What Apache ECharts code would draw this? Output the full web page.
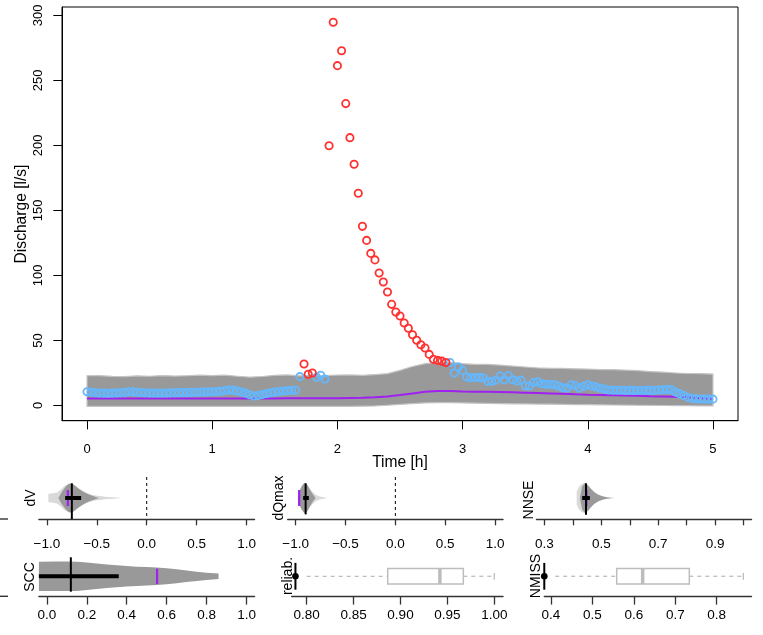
<!DOCTYPE html>
<html><head><meta charset="utf-8">
<script src="https://cdn.jsdelivr.net/npm/echarts@6/dist/echarts.min.js"></script>
<style>html,body{margin:0;padding:0;background:#fff}#c{width:763px;height:635px}</style>
</head><body><div id="c"></div><script>
const FONT = '"Liberation Sans", Arial, Helvetica, sans-serif';

// ---------- main hydrograph data ----------
const obsStepHours = 2 / 60; // observations every 2 minutes
const obsQ = [
10.6,10.2,9.8,9.6,9.5,9.4,9.5,9.6,9.8,10.0,
10.6,10.5,10.2,10.0,9.8,9.6,9.6,9.5,9.6,9.6,
9.7,9.8,9.9,10.0,10.0,10.1,10.2,10.3,10.4,10.5,
10.6,10.8,11.0,11.4,11.9,11.8,11.2,10.4,9.5,8.3,
7.3,7.6,8.5,9.2,9.8,10.3,10.8,11.1,11.3,11.5,
11.7,22.2,31.9,24.0,25.0,21.7,23.2,20.4,199.8,294.8,
261.4,272.9,232.2,206.0,185.5,163.2,137.8,127.0,117.0,112.0,
101.9,95.0,87.3,77.8,71.9,68.8,63.5,59.4,54.4,50.2,
46.7,44.2,39.3,35.5,34.7,34.1,33.1,33.0,25.0,29.6,
27.0,21.9,21.4,21.5,21.5,21.4,18.7,18.7,19.5,22.6,
19.8,23.0,19.8,18.8,19.5,15.1,15.0,17.6,18.2,16.7,
16.3,16.2,16.2,15.0,13.6,13.4,15.9,15.3,13.4,14.9,
15.9,14.9,14.3,13.3,12.6,11.9,11.8,11.7,11.7,11.6,
11.6,11.6,11.5,11.5,11.6,11.6,11.7,11.9,12.1,12.3,
12.2,10.3,9.1,7.7,6.4,5.4,5.1,5.0,4.9,4.9,
4.9];
// indices of observations lying outside the prediction band (drawn red)
const outsideIdx = [52,53,54,58,59,60,61,62,63,64,65,66,67,68,69,70,71,72,73,74,75,76,77,78,79,80,81,82,83,84,85,86];

const bandTime = [0,0.1,0.2,0.3,0.4,0.5,0.6,0.7,0.8,0.9,1,1.1,1.2,1.3,1.4,1.5,1.6,1.7,1.8,1.9,2,2.1,2.2,2.3,2.4,2.5,2.6,2.7,2.8,2.9,3,3.1,3.2,3.3,3.4,3.5,3.6,3.7,3.8,3.9,4,4.1,4.2,4.3,4.4,4.5,4.6,4.7,4.8,4.9,5];
const bandUpper = [22.9,23.0,22.4,22.2,22.8,22.5,23.0,22.6,22.9,23.3,
23.0,23.4,22.5,21.8,22.3,23.2,23.5,22.8,23.2,23.0,
23.4,23.5,23.2,23.8,24.5,27.0,30.0,32.2,33.0,33.2,
32.2,31.6,31.6,31.0,30.3,29.6,28.9,28.6,28.5,28.2,
28.0,27.6,27.6,27.2,26.8,26.1,25.6,25.0,24.6,24.5,
24.2];
const bandLower = [-0.6,-0.6,-0.6,-0.6,-0.6,-0.6,-0.6,-0.6,-0.6,-0.6,
-0.6,-0.6,-0.6,-0.6,-0.6,-0.6,-0.6,-0.6,-0.6,-0.6,
-0.6,-0.6,-0.5,-0.3,0.2,0.8,1.5,2.0,2.2,2.2,
2.0,1.8,1.6,1.5,1.3,1.2,1.1,1.0,0.9,0.7,
0.6,0.5,0.4,0.3,0.2,0.1,0.0,-0.1,-0.2,-0.3,
-0.3];
const bandMedian = [5.4,5.4,5.4,5.4,5.4,5.4,5.4,5.4,5.4,5.4,
5.4,5.4,5.4,5.4,5.4,5.4,5.6,5.6,5.6,5.6,
5.6,5.8,6.0,6.4,7.0,8.0,9.3,10.5,11.2,11.1,
10.8,10.6,10.5,10.3,10.1,9.9,9.6,9.3,9.0,8.6,
8.3,8.1,7.9,7.7,7.5,7.2,7.0,6.8,6.4,5.8,
5.0];

const mainXTicks = [0,1,2,3,4,5];
const mainYTicks = [0,50,100,150,200,250,300];

// ---------- performance panels ----------
// dV
const dvLightX = [-0.985,-0.95,-0.9,-0.86,-0.82,-0.78,-0.74,-0.7,-0.65,-0.6,-0.55,-0.5,-0.45,-0.4,-0.34,-0.27];
const dvLightD = [0.2,0.21,0.26,0.4,0.58,0.68,0.66,0.52,0.36,0.24,0.16,0.11,0.08,0.05,0.03,0.01];
const dvDarkX = [-0.885,-0.85,-0.81,-0.78,-0.75,-0.72,-0.68,-0.63,-0.58,-0.53,-0.48];
const dvDarkD = [0.0,0.3,0.55,0.68,0.69,0.6,0.44,0.29,0.17,0.08,0.0];
const dvMedian = -0.75, dvQuart = [-0.817,-0.657], dvObs = -0.79, dvRef = 0;
// dQmax
const dqLightX = [-0.98,-0.96,-0.94,-0.92,-0.9,-0.88,-0.86,-0.83,-0.8,-0.76,-0.72,-0.68];
const dqLightD = [0.12,0.36,0.56,0.68,0.71,0.62,0.46,0.28,0.15,0.07,0.03,0.0];
const dqDarkX = [-0.975,-0.96,-0.94,-0.92,-0.9,-0.88,-0.86,-0.84,-0.82,-0.8];
const dqDarkD = [0.1,0.35,0.55,0.68,0.71,0.6,0.42,0.26,0.12,0.0];
const dqMedian = -0.9, dqQuart = [-0.925,-0.868], dqObs = -0.965, dqRef = 0;
// NNSE
const nnseLightX = [0.4137,0.42,0.43,0.44,0.45,0.46];
const nnseLightD = [0.3,0.5,0.66,0.71,0.6,0.3];
const nnseDarkX = [0.425,0.433,0.443,0.453,0.463,0.475,0.49,0.505,0.52,0.535,0.548];
const nnseDarkD = [0.0,0.55,0.71,0.62,0.45,0.28,0.15,0.08,0.04,0.015,0.0];
const nnseMedian = 0.4463, nnseQuart = [0.433,0.46], nnseObs = 0.448;
// SCC
const sccX = [-0.04,0.05,0.1,0.15,0.2,0.25,0.3,0.35,0.4,0.45,0.5,0.55,0.6,0.65,0.7,0.75,0.8,0.86];
const sccD = [0.73,0.74,0.74,0.73,0.69,0.64,0.59,0.55,0.51,0.48,0.46,0.44,0.4,0.35,0.29,0.23,0.18,0.14];
const sccMedian = 0.12, sccQuart = [-0.04,0.36], sccObs = 0.552;
// reliability
const relBox = [0.8864,0.942,0.967], relWhisk = [0.80,1.0], relObs = 0.788;
// NMISS
const nmBox = [0.5586,0.6213,0.7339], nmWhisk = [0.41,0.8643], nmObs = 0.3838;

const ticksPM1 = [-1,-0.5,0,0.5,1];
const ticks01 = [0,0.2,0.4,0.6,0.8,1];
const ticksRel = [0.8,0.85,0.9,0.95,1.0];
const ticksNNSE = [0.3,0.4,0.5,0.6,0.7,0.8,0.9,1.0];
const labelsNNSE = [0.3,0.5,0.7,0.9];
const ticksNM = [0.4,0.5,0.6,0.7,0.8];

// ---------- helpers ----------
const fmt = d => v => (v < 0 ? '\u2212' : '') + Math.abs(v).toFixed(d);
const GREY = '#999999', LIGHT = '#d9d9d9', PURPLE = '#a020f0';

function violinPoly(api, xs, ds, color) {
  const top = xs.map((x, k) => api.coord([x, ds[k]]));
  const bot = xs.map((x, k) => api.coord([x, -ds[k]])).reverse();
  return { type: 'polygon', shape: { points: top.concat(bot) }, style: { fill: color } };
}
function vseg(api, x, yTop, yBot, color, w) {
  const a = api.coord([x, yTop]), b = api.coord([x, yBot]);
  return { type: 'line', shape: { x1: a[0], y1: a[1], x2: b[0], y2: b[1] }, style: { stroke: color, lineWidth: w } };
}
function vline(api, x, h, color, w) { return vseg(api, x, h, -h, color, w); }
function hline(api, x1, x2, color, w, dash) {
  const a = api.coord([x1, 0]), b = api.coord([x2, 0]);
  return { type: 'line', shape: { x1: a[0], y1: a[1], x2: b[0], y2: b[1] }, style: { stroke: color, lineWidth: w, lineDash: dash || null } };
}
function refLine(api, x) {
  const a = api.coord([x, 1]), b = api.coord([x, -1]);
  return { type: 'line', shape: { x1: a[0], y1: a[1], x2: b[0], y2: b[1] }, style: { stroke: '#000', lineWidth: 1, lineDash: [3, 3] } };
}
function violinPanel(idx, spec) {
  return {
    type: 'custom', xAxisIndex: idx, yAxisIndex: idx, data: [[0, 0]], clip: false, silent: true, z: 5,
    renderItem: (params, api) => {
      const ch = [];
      if (spec.ref !== undefined) ch.push(refLine(api, spec.ref));
      if (spec.lightX) ch.push(violinPoly(api, spec.lightX, spec.lightD, LIGHT));
      ch.push(violinPoly(api, spec.darkX, spec.darkD, GREY));
      ch.push(vline(api, spec.obs, 0.38, PURPLE, 2.2));
      ch.push(vseg(api, spec.median, spec.medTop, spec.medBot, '#000', 2));
      ch.push(hline(api, spec.quart[0], spec.quart[1], '#000', 4));
      return { type: 'group', children: ch };
    }
  };
}
function boxPanel(idx, box, whisk, obs) {
  return {
    type: 'custom', xAxisIndex: idx, yAxisIndex: idx, data: [[0, 0]], clip: false, silent: true, z: 5,
    renderItem: (params, api) => {
      const c = '#bdbdbd';
      const p1 = api.coord([box[0], 0.385]), p3 = api.coord([box[2], -0.385]);
      const ch = [
        hline(api, whisk[0], box[0], c, 1.3, [4, 4]),
        hline(api, box[2], whisk[1], c, 1.3, [4, 4]),
        vline(api, whisk[1], 0.17, c, 1.3),
        { type: 'rect', shape: { x: p1[0], y: p1[1], width: p3[0] - p1[0], height: p3[1] - p1[1] }, style: { fill: '#fff', stroke: c, lineWidth: 1.5 } },
        vline(api, box[1], 0.385, c, 3.5),
        vline(api, obs, 0.67, '#000', 2)
      ];
      const o = api.coord([obs, 0]);
      ch.push({ type: 'circle', shape: { cx: o[0], cy: o[1], r: 3.3 }, style: { fill: '#000' } });
      return { type: 'group', children: ch };
    }
  };
}

// ---------- layout ----------
const grids = [
  { left: 62, top: 7, width: 676, height: 413.7 },
  { left: 38.9, top: 477, width: 215.6, height: 42 },
  { left: 38.9, top: 556.3, width: 215.6, height: 40 },
  { left: 287.7, top: 477, width: 215.3, height: 42 },
  { left: 291.7, top: 556.3, width: 211.3, height: 40 },
  { left: 536.5, top: 477, width: 215, height: 42 },
  { left: 544.3, top: 556.3, width: 207.2, height: 40 }
];
grids[0].show = true; grids[0].borderColor = '#000'; grids[0].borderWidth = 1;

function smallX(idx, min, max, ticks, labels, dec, margin, tickLen) {
  return {
    gridIndex: idx, type: 'value', min: min, max: max,
    axisLine: { show: true, onZero: false, lineStyle: { color: '#333', width: 1.4 } },
    axisTick: { show: true, customValues: ticks, length: tickLen, lineStyle: { color: '#333', width: 1.3 } },
    axisLabel: { customValues: labels, formatter: fmt(dec), margin: margin, fontSize: 13.5, color: '#000', fontFamily: FONT },
    splitLine: { show: false }
  };
}
const xAxes = [
  {
    gridIndex: 0, type: 'value', min: -0.2, max: 5.2,
    axisLine: { show: true, onZero: false, lineStyle: { color: '#000', width: 1 } },
    axisTick: { show: true, customValues: mainXTicks, length: 8.7, lineStyle: { color: '#000' } },
    axisLabel: { customValues: mainXTicks, formatter: v => String(v), margin: 22, fontSize: 13, color: '#000', fontFamily: FONT },
    splitLine: { show: false }
  },
  smallX(1, -1.08, 1.08, ticksPM1, ticksPM1, 1, 18, 6.3),
  smallX(2, -0.04, 1.04, ticks01, ticks01, 1, 12, 8.3),
  smallX(3, -1.08, 1.08, ticksPM1, ticksPM1, 1, 18, 6.3),
  smallX(4, 0.78401, 1.00928, ticksRel, ticksRel, 2, 12, 8.3),
  smallX(5, 0.2726, 1.0274, ticksNNSE, labelsNNSE, 1, 18, 6.3),
  smallX(6, 0.38383, 0.884, ticksNM, ticksNM, 1, 12, 8.3)
];
const yAxes = [
  {
    gridIndex: 0, type: 'value', min: -11.69, max: 306.5,
    axisLine: { show: true, onZero: false, lineStyle: { color: '#000', width: 1 } },
    axisTick: { show: true, customValues: mainYTicks, length: 8.7, lineStyle: { color: '#000' } },
    axisLabel: { customValues: mainYTicks, rotate: 90, margin: 17, fontSize: 13, color: '#000', fontFamily: FONT },
    splitLine: { show: false }
  }
];
for (let i = 1; i <= 6; i++) yAxes.push({ gridIndex: i, type: 'value', min: -1, max: 1, show: false });

// ---------- series ----------
const obsAll = obsQ.map((q, i) => [i * obsStepHours, q]);
const outSet = new Set(outsideIdx);
const obsIn = obsAll.filter((p, i) => !outSet.has(i));
const obsOut = obsAll.filter((p, i) => outSet.has(i));

const series = [
  {
    type: 'custom', xAxisIndex: 0, yAxisIndex: 0, data: [[0, 0]], silent: true, z: 1,
    renderItem: (params, api) => {
      const up = bandTime.map((t, k) => api.coord([t, bandUpper[k]]));
      const lo = bandTime.map((t, k) => api.coord([t, bandLower[k]])).reverse();
      return { type: 'polygon', shape: { points: up.concat(lo) }, style: { fill: GREY, stroke: '#c4c4c4', lineWidth: 1.2 } };
    }
  },
  {
    type: 'line', xAxisIndex: 0, yAxisIndex: 0, data: bandTime.map((t, k) => [t, bandMedian[k]]),
    showSymbol: false, symbol: 'none', lineStyle: { color: PURPLE, width: 2 }, z: 2, silent: true
  },
  {
    type: 'scatter', xAxisIndex: 0, yAxisIndex: 0, data: obsIn, symbol: 'circle', symbolSize: 7.3, z: 3, silent: true,
    itemStyle: { color: 'rgba(0,0,0,0)', borderColor: '#63b8ff', borderWidth: 1.8, opacity: 1 }
  },
  {
    type: 'scatter', xAxisIndex: 0, yAxisIndex: 0, data: obsOut, symbol: 'circle', symbolSize: 7.3, z: 4, silent: true,
    itemStyle: { color: 'rgba(0,0,0,0)', borderColor: '#ff3030', borderWidth: 1.8, opacity: 1 }
  },
  violinPanel(1, { lightX: dvLightX, lightD: dvLightD, darkX: dvDarkX, darkD: dvDarkD, median: dvMedian, quart: dvQuart, obs: dvObs, ref: dvRef, medTop: 0.7, medBot: -1.0 }),
  violinPanel(2, { darkX: sccX, darkD: sccD, median: sccMedian, quart: sccQuart, obs: sccObs, medTop: 0.95, medBot: -0.77 }),
  violinPanel(3, { lightX: dqLightX, lightD: dqLightD, darkX: dqDarkX, darkD: dqDarkD, median: dqMedian, quart: dqQuart, obs: dqObs, ref: dqRef, medTop: 0.7, medBot: -0.78 }),
  boxPanel(4, relBox, relWhisk, relObs),
  violinPanel(5, { lightX: nnseLightX, lightD: nnseLightD, darkX: nnseDarkX, darkD: nnseDarkD, median: nnseMedian, quart: nnseQuart, obs: nnseObs, medTop: 0.7, medBot: -0.8 }),
  boxPanel(6, nmBox, nmWhisk, nmObs)
];

// ---------- text ----------
function vtext(x, y, text, size) {
  return { type: 'text', x: x, y: y, rotation: Math.PI / 2, silent: true,
    style: { text: text, font: size + 'px ' + FONT, fill: '#000', align: 'center', verticalAlign: 'middle', textAlign: 'center', textVerticalAlign: 'middle' } };
}
const graphics = [
  { type: 'text', x: 400, y: 463, silent: true, style: { text: 'Time [h]', font: '15.6px ' + FONT, fill: '#000', align: 'center', verticalAlign: 'middle', textAlign: 'center', textVerticalAlign: 'middle' } },
  vtext(22, 214, 'Discharge [l/s]', 15.6),
  vtext(31.5, 498, 'dV', 14),
  vtext(30, 577, 'SCC', 14),
  vtext(279, 498, 'dQmax', 14),
  vtext(288.5, 576, 'reliab.', 14),
  vtext(529, 500, 'NNSE', 14),
  vtext(536, 576, 'NMISS', 14),
  { type: 'line', silent: true, shape: { x1: 0, y1: 519, x2: 8, y2: 519 }, style: { stroke: '#333', lineWidth: 1.4 } },
  { type: 'line', silent: true, shape: { x1: 0, y1: 596.3, x2: 8, y2: 596.3 }, style: { stroke: '#333', lineWidth: 1.4 } }
];

const chart = echarts.init(document.getElementById('c'), null, { renderer: 'canvas' });
chart.setOption({
  animation: false,
  backgroundColor: '#fff',
  textStyle: { fontFamily: FONT },
  grid: grids,
  xAxis: xAxes,
  yAxis: yAxes,
  series: series,
  graphic: graphics
});
</script></body></html>
